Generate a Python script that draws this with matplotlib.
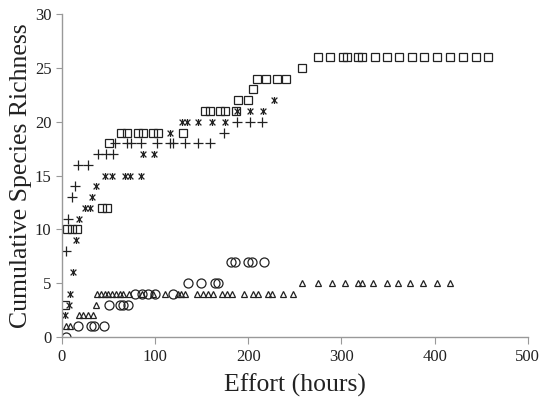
import matplotlib.pyplot as plt
from matplotlib.path import Path

plt.rcParams['font.family'] = ['Liberation Serif', 'DejaVu Serif']

# cumulative species richness vs effort, one pair of lists per series
square_x = [3, 6, 11, 16, 43, 48, 51, 64, 70, 82, 87, 98, 103, 130,
            154, 159, 170, 175, 187, 189, 200, 205, 209, 219, 231, 240, 258,
            275, 288, 302, 306, 318, 322, 336, 349, 362, 376, 389, 403, 416,
            430, 444, 457]
square_y = [3, 10, 10, 10, 12, 12, 18, 19, 19, 19, 19, 19, 19, 19,
            21, 21, 21, 21, 21, 22, 22, 23, 24, 24, 24, 24, 25,
            26, 26, 26, 26, 26, 26, 26, 26, 26, 26, 26, 26, 26,
            26, 26, 26]

plus_x = [4, 6.5, 11, 14, 17, 28, 39, 47, 55, 57, 70, 74, 85, 102, 116,
          119, 132, 146, 159, 174, 188, 202, 215]
plus_y = [8, 11, 13, 14, 16, 16, 17, 17, 17, 18, 18, 18, 18, 18, 18,
          18, 18, 18, 18, 19, 20, 20, 20]

star_x = [3, 7.5, 8.6, 12, 15, 18, 25, 30, 32, 37, 46, 54, 68, 73, 85,
          87, 99, 116, 129, 134, 146, 161, 175, 188, 202, 216, 228]
star_y = [2, 3, 4, 6, 9, 11, 12, 12, 13, 14, 15, 15, 15, 15, 15,
          17, 17, 19, 20, 20, 20, 20, 20, 21, 21, 21, 22]

circle_x = [5, 17, 31, 35, 45, 51, 62, 66, 71, 79, 86, 93, 100, 119,
            135, 149, 164, 168, 182, 186, 200, 204, 217]
circle_y = [0, 1, 1, 1, 1, 3, 3, 3, 3, 4, 4, 4, 4, 4,
            5, 5, 5, 5, 7, 7, 7, 7, 7]

tri_x = [5, 9, 18, 23, 28, 33, 37, 38, 42, 46, 50, 54, 58, 62, 66, 72, 86,
         98, 111, 125, 128, 132, 145, 151, 157, 162, 172, 177, 183, 195,
         205, 211, 221, 226, 237, 248,
         258, 275, 290, 304, 318, 322, 334, 349, 361, 374, 388, 403, 416]
tri_y = [1, 1, 2, 2, 2, 2, 3, 4, 4, 4, 4, 4, 4, 4, 4, 4, 4,
         4, 4, 4, 4, 4, 4, 4, 4, 4, 4, 4, 4, 4,
         4, 4, 4, 4, 4, 4,
         5, 5, 5, 5, 5, 5, 5, 5, 5, 5, 5, 5, 5]

# x with a vertical bar, like the spreadsheet "star" marker
star_marker = Path([(-1, -1), (1, 1), (-1, 1), (1, -1), (0, -1.2), (0, 1.2)],
                   [Path.MOVETO, Path.LINETO, Path.MOVETO, Path.LINETO,
                    Path.MOVETO, Path.LINETO])

ink = '#222222'
fig = plt.figure(figsize=(5.47, 4.05), dpi=100)
ax = fig.add_axes([0.113, 0.168, 0.852, 0.797])

ax.plot(square_x, square_y, linestyle='none', marker='s', markersize=5.5,
        markerfacecolor='none', markeredgecolor=ink, markeredgewidth=0.9)
ax.plot(plus_x, plus_y, linestyle='none', marker='+', markersize=7,
        markeredgecolor=ink, markeredgewidth=0.9)
ax.plot(star_x, star_y, linestyle='none', marker=star_marker, markersize=5,
        fillstyle='none', markeredgecolor=ink, markeredgewidth=0.9)
ax.plot(circle_x, circle_y, linestyle='none', marker='o', markersize=6.5,
        markerfacecolor='none', markeredgecolor=ink, markeredgewidth=0.9)
ax.plot(tri_x, tri_y, linestyle='none', marker='^', markersize=5,
        markerfacecolor='none', markeredgecolor=ink, markeredgewidth=0.9)

ax.set_xlim(0, 500)
ax.set_ylim(0, 30)
ax.set_xticks(range(0, 501, 100))
ax.set_yticks(range(0, 31, 5))

for side in ['top', 'right']:
    ax.spines[side].set_visible(False)
for side in ['left', 'bottom']:
    ax.spines[side].set_color('#999999')
    ax.spines[side].set_linewidth(1)
ax.tick_params(axis='both', direction='out', color='#999999', labelsize=12,
               labelcolor='#222222')
ax.tick_params(axis='x', length=5)
ax.tick_params(axis='y', length=4)

ax.set_xlabel('Effort (hours)', fontsize=18.5, color='#222222', labelpad=6)
ax.set_ylabel('Cumulative Species Richness', fontsize=18.5, color='#222222',
              labelpad=2)

fig.savefig('out.png', dpi=100)
